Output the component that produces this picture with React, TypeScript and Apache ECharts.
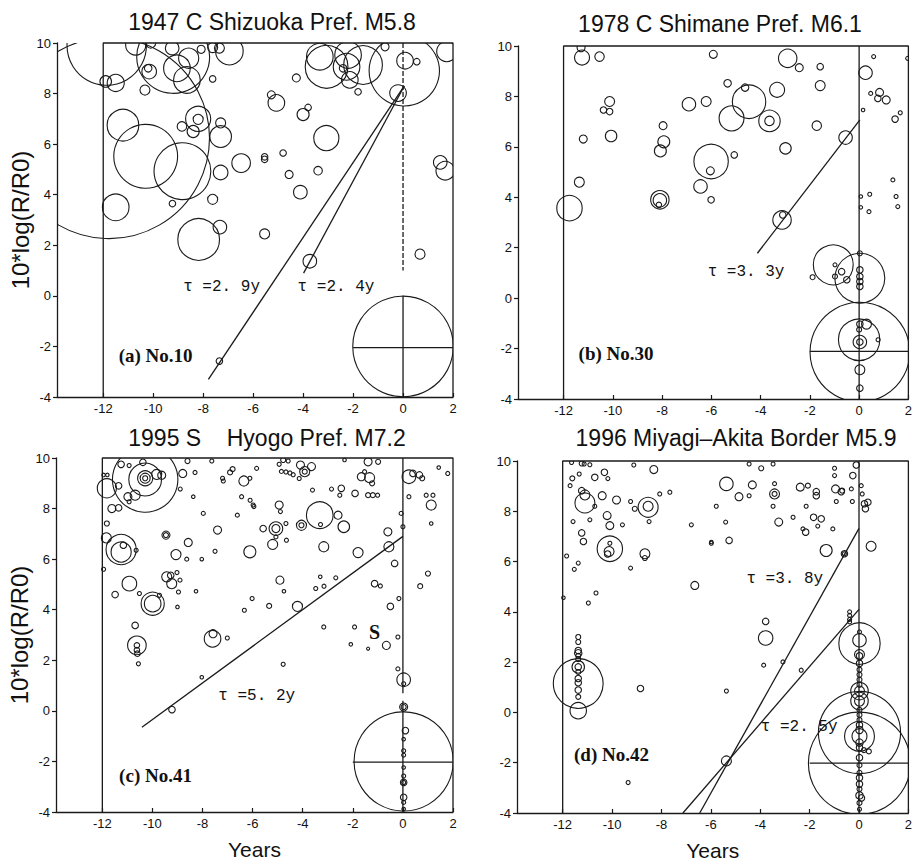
import React, { useEffect, useRef } from "react";
import * as echarts from "echarts";

// ---------- axis settings ----------
const X_MIN = -13.85;
const X_MAX = 2;
const Y_MIN = -4;
const Y_MAX = 10;
const X_TICKS = [-12, -10, -8, -6, -4, -2, 0, 2];

const TITLES = [
  "1947 C Shizuoka Pref. M5.8",
  "1978 C Shimane Pref. M6.1",
  "1995 S\u00a0\u00a0\u00a0\u00a0Hyogo Pref. M7.2",
  "1996 Miyagi\u2013Akita Border M5.9",
];
const Y_NAME = "10*log(R/R0)";
const X_NAME = "Years";

// ---------- circles [years, 10*log(R/R0), radius] ----------
const circlesA = [
  [-11.86, 9.9, 1.58], [-11.77, 6.24, 4.0], [-11.9, 8.48, 0.23], [-11.5, 8.42, 0.34],
  [-11.21, 6.75, 0.63], [-10.3, 5.52, 1.27], [-8.83, 4.93, 1.13], [-11.5, 3.5, 0.53],
  [-8.18, 2.23, 0.83], [-9.2, 9.45, 1.45], [-10.33, 8.14, 0.2], [-10.16, 8.87, 0.29],
  [-10.2, 9.0, 0.15], [-9.24, 9.8, 0.27], [-9.05, 9.0, 0.53], [-8.58, 9.4, 0.4],
  [-8.65, 8.54, 0.53], [-8.08, 9.75, 0.16], [-7.62, 8.58, 0.13], [-7.62, 9.82, 0.2],
  [-7.35, 9.8, 0.2], [-6.95, 9.68, 0.55], [-10.7, 9.92, 0.4], [-10.1, 10.0, 0.2],
  [-8.2, 7.0, 0.5], [-8.2, 6.98, 0.2], [-8.85, 6.7, 0.19], [-8.4, 6.5, 0.24],
  [-7.3, 6.84, 0.2], [-7.3, 6.3, 0.43], [-6.48, 5.25, 0.37], [-7.3, 4.88, 0.29],
  [-9.23, 3.65, 0.13], [-7.62, 3.82, 0.2], [-7.33, 2.72, 0.27], [-7.35, -2.58, 0.13],
  [-3.33, 9.46, 0.53], [-3.06, 9.06, 0.85], [-2.2, 9.53, 0.53], [-2.26, 9.06, 0.53],
  [-1.6, 9.13, 0.77], [-2.13, 8.54, 0.33], [-1.8, 8.07, 0.13], [-2.4, 9.0, 0.15],
  [-0.72, 9.85, 0.16], [-0.2, 8.02, 0.33], [0.08, 9.3, 0.33], [0.55, 9.26, 0.13],
  [1.75, 9.66, 0.4], [0.05, 8.9, 1.4], [-4.27, 8.62, 0.16], [-5.27, 7.95, 0.16],
  [-5.07, 7.63, 0.33], [-3.8, 7.45, 0.13], [-4.0, 7.17, 0.24], [-3.07, 6.24, 0.5],
  [-5.54, 5.5, 0.13], [-5.54, 5.4, 0.13], [-4.8, 5.65, 0.13], [-4.56, 4.8, 0.16],
  [-3.4, 4.95, 0.17], [-4.11, 4.1, 0.27], [-5.54, 2.45, 0.2], [-3.73, 1.37, 0.27],
  [1.49, 5.28, 0.27], [1.69, 4.95, 0.37], [0.68, 1.65, 0.2], [0.0, -2.0, 2.0],
];

const circlesB = [
  [-11.29, 9.93, 0.16], [-11.25, 9.54, 0.3], [-10.54, 9.58, 0.19], [-10.13, 7.8, 0.2],
  [-10.38, 7.46, 0.13], [-10.13, 7.4, 0.13], [-11.2, 6.31, 0.16], [-10.07, 6.43, 0.23],
  [-11.36, 4.6, 0.2], [-11.76, 3.57, 0.51], [-7.96, 6.84, 0.16], [-7.93, 6.2, 0.24],
  [-8.07, 5.84, 0.24], [-8.09, 3.9, 0.37], [-8.09, 3.88, 0.27], [-8.13, 3.7, 0.11],
  [-6.91, 7.69, 0.27], [-6.21, 7.8, 0.2], [-5.92, 9.67, 0.16], [-6.01, 5.42, 0.69],
  [-6.04, 5.05, 0.16], [-6.44, 4.43, 0.27], [-6.01, 3.9, 0.13], [-2.9, 9.51, 0.37],
  [-2.43, 9.14, 0.16], [-1.58, 9.18, 0.13], [-1.58, 8.43, 0.2], [-1.72, 6.84, 0.19],
  [-5.34, 8.52, 0.15], [-4.63, 8.35, 0.15], [-4.47, 7.79, 0.67], [-5.18, 7.13, 0.5],
  [-3.64, 7.03, 0.43], [-3.64, 7.03, 0.19], [-3.33, 8.26, 0.3], [-2.99, 5.94, 0.23],
  [-5.07, 5.68, 0.13], [-3.13, 3.1, 0.37], [-3.1, 3.3, 0.13], [-0.55, 6.37, 0.27],
  [0.26, 8.94, 0.27], [0.59, 9.58, 0.08], [1.97, 9.51, 0.08], [0.47, 8.12, 0.08],
  [0.83, 8.16, 0.16], [0.76, 7.92, 0.13], [1.1, 7.86, 0.16], [0.16, 7.46, 0.07],
  [1.46, 7.1, 0.13], [1.67, 7.35, 0.08], [0.07, 4.03, 0.07], [0.43, 4.12, 0.08],
  [0.07, 3.6, 0.07], [0.4, 3.43, 0.08], [1.37, 4.69, 0.08], [1.5, 4.03, 0.08],
  [1.57, 3.63, 0.08], [-1.89, 0.83, 0.1], [-1.05, 1.32, 0.8], [-0.98, 1.32, 0.08],
  [-0.71, 1.05, 0.13], [-0.98, 0.86, 0.1], [-0.5, 0.73, 0.13], [0.03, 0.79, 1.0],
  [0.03, 1.78, 0.1], [0.03, 1.12, 0.13], [0.03, 0.86, 0.13], [0.03, 0.66, 0.13],
  [0.03, 0.46, 0.13], [0.03, -2.14, 2.0], [0.0, -1.65, 0.83], [0.3, -1.03, 0.2],
  [0.03, -1.03, 0.13], [0.77, -1.65, 0.08], [0.03, -1.74, 0.27], [0.03, -1.74, 0.13],
  [0.03, -2.84, 0.2], [0.03, -3.57, 0.13], [0.0, -1.25, 0.1],
];

const circlesC = [
  [-10.29, 9.15, 1.3], [-10.29, 9.15, 0.65], [-10.29, 9.2, 0.3], [-10.29, 9.2, 0.2],
  [-10.29, 9.2, 0.1], [-11.82, 8.8, 0.38], [-11.95, 9.33, 0.07], [-11.8, 9.33, 0.07],
  [-11.62, 8.0, 0.16], [-11.35, 8.03, 0.13], [-11.82, 7.41, 0.1], [-11.84, 6.84, 0.2],
  [-11.95, 5.6, 0.08], [-11.25, 6.38, 0.6], [-11.25, 6.28, 0.4], [-11.16, 6.55, 0.13],
  [-10.65, 6.35, 0.08], [-10.92, 5.03, 0.29], [-11.49, 4.6, 0.13], [-10.52, 4.64, 0.08],
  [-9.99, 4.24, 0.46], [-9.99, 4.24, 0.33], [-9.72, 4.57, 0.08], [-10.69, 3.38, 0.13],
  [-10.62, 2.59, 0.37], [-10.62, 2.59, 0.11], [-10.62, 2.4, 0.11], [-10.6, 2.26, 0.11],
  [-10.56, 1.86, 0.08], [-11.35, 8.9, 0.13], [-10.98, 8.47, 0.16], [-10.69, 8.53, 0.2],
  [-11.25, 9.75, 0.13], [-10.93, 9.7, 0.08], [-10.38, 9.83, 0.13], [-9.83, 9.35, 0.2],
  [-9.63, 9.32, 0.16], [-10.93, 8.27, 0.08], [-9.46, 6.95, 0.16], [-9.46, 6.95, 0.1],
  [-9.06, 6.18, 0.2], [-8.57, 6.66, 0.16], [-8.63, 6.0, 0.08], [-9.43, 5.3, 0.2],
  [-9.23, 5.03, 0.2], [-9.27, 5.36, 0.13], [-9.02, 5.47, 0.08], [-8.9, 5.17, 0.08],
  [-8.96, 4.7, 0.08], [-9.0, 4.11, 0.07], [-8.79, 9.39, 0.16], [-8.89, 8.77, 0.08],
  [-8.37, 8.47, 0.07], [-8.6, 9.88, 0.1], [-8.3, 9.43, 0.08], [-7.97, 7.81, 0.08],
  [-8.03, 6.0, 0.07], [-8.26, 4.73, 0.07], [-7.63, 9.88, 0.08], [-7.4, 7.15, 0.16],
  [-7.5, 6.31, 0.08], [-7.6, 2.85, 0.33], [-7.58, 3.05, 0.16], [-7.01, 2.88, 0.08],
  [-8.03, 1.33, 0.07], [-9.22, 0.05, 0.13], [-7.2, 9.2, 0.08], [-6.8, 9.56, 0.1],
  [-6.9, 9.43, 0.1], [-7.17, 9.09, 0.08], [-6.35, 9.09, 0.2], [-6.11, 9.2, 0.08],
  [-6.44, 8.47, 0.08], [-6.1, 8.33, 0.08], [-5.95, 8.08, 0.08], [-6.61, 7.74, 0.08],
  [-6.11, 6.29, 0.24], [-6.02, 4.44, 0.08], [-6.33, 3.98, 0.08], [-5.84, 9.59, 0.08],
  [-4.94, 9.75, 0.08], [-4.78, 9.92, 0.1], [-4.58, 9.88, 0.08], [-4.85, 9.47, 0.08],
  [-4.67, 9.45, 0.08], [-4.51, 9.41, 0.08], [-4.38, 9.34, 0.08], [-4.09, 9.72, 0.16],
  [-3.65, 9.66, 0.16], [-3.92, 9.46, 0.2], [-3.92, 9.46, 0.1], [-4.14, 9.19, 0.08],
  [-5.98, 8.14, 0.08], [-4.94, 8.14, 0.16], [-4.89, 7.88, 0.08], [-3.61, 8.73, 0.08],
  [-2.85, 8.77, 0.08], [-2.46, 8.8, 0.13], [-2.52, 8.53, 0.08], [-3.32, 7.74, 0.53],
  [-3.29, 7.37, 0.08], [-2.59, 7.74, 0.16], [-2.36, 7.28, 0.23], [-1.91, 8.6, 0.13],
  [-1.39, 8.53, 0.1], [-1.2, 8.53, 0.1], [-1.01, 8.53, 0.08], [-1.39, 9.85, 0.16],
  [-0.99, 9.85, 0.1], [-2.33, 9.92, 0.07], [-1.66, 9.26, 0.16], [-1.33, 9.22, 0.2],
  [-1.23, 9.0, 0.1], [-1.53, 9.46, 0.08], [-5.07, 7.21, 0.27], [-5.07, 7.21, 0.16],
  [-5.58, 7.21, 0.13], [-4.67, 7.41, 0.08], [-4.05, 7.34, 0.2], [-4.05, 7.34, 0.1],
  [-5.07, 6.88, 0.08], [-4.65, 6.75, 0.08], [-5.2, 6.58, 0.2], [-3.16, 6.49, 0.2],
  [-1.79, 6.26, 0.2], [-0.6, 7.08, 0.16], [-0.56, 6.49, 0.2], [-0.33, 5.83, 0.13],
  [-0.07, 7.81, 0.08], [0.0, 7.28, 0.08], [-4.91, 5.17, 0.16], [-4.75, 4.73, 0.07],
  [-3.3, 5.3, 0.07], [-3.48, 4.84, 0.08], [-3.15, 4.93, 0.08], [-2.68, 5.26, 0.08],
  [-5.34, 4.15, 0.1], [-4.21, 4.13, 0.2], [-1.13, 5.03, 0.13], [-0.9, 4.94, 0.08],
  [-0.16, 4.44, 0.08], [-0.5, 4.13, 0.13], [-0.2, 2.92, 0.08], [-3.16, 3.32, 0.08],
  [-1.93, 3.32, 0.08], [-2.08, 2.63, 0.07], [-1.39, 2.46, 0.05], [-0.66, 2.59, 0.16],
  [-4.78, 1.84, 0.08], [-0.2, 1.66, 0.08], [0.03, 1.23, 0.27], [0.03, 1.07, 0.08],
  [0.03, 0.15, 0.16], [0.03, 0.15, 0.1], [0.03, -2.0, 1.97], [0.1, -0.78, 0.13],
  [0.03, -1.12, 0.07], [0.03, -1.58, 0.08], [0.03, -1.75, 0.08], [0.03, -2.24, 0.07],
  [0.03, -2.58, 0.08], [0.03, -2.83, 0.13], [0.03, -2.83, 0.08], [0.03, -3.42, 0.13],
  [0.03, -3.62, 0.08], [0.03, -3.88, 0.07], [0.24, 9.26, 0.27], [0.4, 9.39, 0.13],
  [0.66, 9.33, 0.13], [0.77, 9.2, 0.1], [0.24, 8.47, 0.08], [0.93, 8.53, 0.08],
  [1.2, 8.53, 0.08], [1.13, 8.14, 0.2], [1.13, 7.41, 0.07], [1.43, 9.62, 0.07],
  [1.79, 9.39, 0.08], [1.0, 5.43, 0.1], [0.69, 4.93, 0.1],
];

const circlesD = [
  [-11.64, 9.94, 0.08], [-11.23, 9.9, 0.1], [-11.13, 9.88, 0.08], [-10.9, 9.85, 0.08],
  [-11.61, 9.31, 0.1], [-11.33, 9.48, 0.08], [-11.7, 9.02, 0.08], [-10.7, 9.35, 0.13],
  [-10.31, 9.55, 0.13], [-10.17, 9.3, 0.08], [-11.23, 8.82, 0.13], [-11.1, 8.65, 0.2],
  [-11.1, 8.33, 0.4], [-10.7, 8.2, 0.08], [-10.4, 8.62, 0.16], [-9.82, 8.45, 0.16],
  [-9.12, 9.84, 0.08], [-8.31, 9.66, 0.16], [-9.25, 8.39, 0.08], [-9.08, 8.1, 0.1],
  [-8.07, 8.69, 0.08], [-7.66, 8.76, 0.08], [-8.54, 8.16, 0.4], [-8.54, 8.2, 0.2],
  [-8.5, 7.59, 0.08], [-11.58, 7.59, 0.08], [-10.9, 7.66, 0.08], [-10.2, 7.83, 0.16],
  [-10.09, 7.43, 0.16], [-9.58, 7.46, 0.08], [-11.23, 7.14, 0.13], [-11.16, 6.8, 0.13],
  [-10.09, 6.51, 0.51], [-10.09, 6.73, 0.08], [-10.12, 6.4, 0.2], [-10.18, 6.3, 0.13],
  [-8.67, 6.31, 0.2], [-8.67, 6.14, 0.1], [-11.84, 6.22, 0.08], [-11.37, 5.94, 0.08],
  [-11.53, 5.69, 0.08], [-9.25, 5.74, 0.08], [-6.79, 7.46, 0.08], [-5.98, 6.73, 0.08],
  [-6.65, 5.05, 0.16], [-11.97, 4.56, 0.07], [-10.65, 4.75, 0.08], [-10.96, 4.35, 0.08],
  [-11.37, 3.0, 0.1], [-11.37, 2.8, 0.1], [-11.37, 2.46, 0.13], [-11.37, 2.35, 0.15],
  [-11.37, 2.25, 0.1], [-11.37, 2.12, 0.1], [-11.37, 1.81, 0.25], [-11.37, 1.81, 0.13],
  [-11.37, 1.61, 0.1], [-11.37, 1.35, 0.13], [-11.37, 1.18, 0.13], [-11.37, 0.89, 0.13],
  [-11.37, 0.62, 0.1], [-11.37, 1.15, 1.0], [-11.37, 0.07, 0.33], [-8.85, 0.95, 0.13],
  [-9.35, -2.79, 0.08], [-4.45, 9.88, 0.08], [-3.96, 9.71, 0.1], [-3.48, 9.88, 0.08],
  [-5.37, 9.09, 0.27], [-4.32, 9.05, 0.16], [-4.45, 8.62, 0.08], [-4.86, 8.58, 0.16],
  [-5.78, 8.2, 0.08], [-5.4, 7.57, 0.08], [-5.98, 6.78, 0.07], [-5.26, 6.84, 0.13],
  [-3.42, 9.1, 0.08], [-3.42, 8.69, 0.2], [-3.42, 8.69, 0.1], [-3.48, 8.2, 0.08],
  [-3.25, 7.57, 0.16], [-2.67, 7.76, 0.08], [-2.27, 7.3, 0.08], [-2.16, 7.17, 0.13],
  [-2.14, 8.2, 0.08], [-2.38, 8.96, 0.16], [-2.07, 9.02, 0.1], [-1.84, 7.76, 0.13],
  [-1.53, 7.7, 0.13], [-1.67, 7.41, 0.08], [-1.06, 7.3, 0.08], [-1.73, 8.78, 0.13],
  [-1.73, 8.62, 0.13], [-1.33, 6.44, 0.24], [-0.95, 8.89, 0.16], [-0.99, 9.71, 0.08],
  [-0.99, 9.42, 0.08], [-0.72, 8.78, 0.13], [-0.68, 8.82, 0.1], [-0.92, 8.39, 0.08],
  [-0.31, 8.89, 0.08], [-0.25, 9.42, 0.13], [-0.27, 8.39, 0.08], [-0.11, 9.84, 0.13],
  [0.09, 9.02, 0.08], [0.13, 8.69, 0.08], [0.22, 8.3, 0.13], [0.36, 8.36, 0.13],
  [0.26, 8.1, 0.13], [0.49, 6.61, 0.2], [-0.59, 6.31, 0.13], [-0.59, 6.31, 0.08],
  [-3.78, 3.62, 0.13], [-3.78, 2.96, 0.29], [-3.86, 1.88, 0.08], [-3.08, 2.01, 0.08],
  [-2.34, 1.68, 0.08], [-5.37, 0.85, 0.08], [-5.37, -1.93, 0.2], [-0.38, 4.0, 0.08],
  [-0.38, 3.86, 0.08], [-0.38, 3.7, 0.08], [-0.38, 3.6, 0.08], [0.02, 2.74, 0.83],
  [0.02, 2.87, 0.27], [0.02, 3.2, 0.08], [0.02, 2.3, 0.2], [0.02, 2.25, 0.13],
  [0.02, 1.95, 0.13], [0.02, 1.7, 0.1], [0.02, 1.5, 0.1], [0.02, 1.3, 0.1],
  [0.02, 1.1, 0.1], [0.02, 0.85, 0.35], [0.02, 0.85, 0.2], [0.02, 0.45, 0.35],
  [0.02, 0.45, 0.2], [0.02, 0.1, 0.1], [0.02, -0.1, 0.1], [0.02, -0.3, 0.1],
  [0.02, -0.5, 0.13], [0.02, -0.8, 1.65], [0.02, -0.95, 0.6], [0.02, -0.95, 0.3],
  [0.02, -0.7, 0.15], [0.02, -1.2, 0.15], [0.02, -1.4, 0.13], [0.2, -1.5, 0.1],
  [0.4, -1.55, 0.1], [0.02, -2.02, 2.05], [0.02, -1.8, 0.13], [0.02, -2.1, 0.1],
  [0.02, -2.4, 0.1], [0.02, -2.6, 0.13], [0.02, -2.85, 0.13], [0.02, -3.05, 0.1],
  [0.02, -3.3, 0.15], [0.1, -3.4, 0.13], [0.02, -3.6, 0.1], [0.02, -3.85, 0.08],
];

// ---------- line segments [[x0,y0],[x1,y1],...] ----------
const frameLine = [[-12, -4], [-12, 10], [2, 10], [2, -4]];

const linesA = [
  { pts: [[-7.79, -3.3], [0.05, 8.3]], dash: false },
  { pts: [[-3.98, 0.9], [0.05, 8.3]], dash: false },
  { pts: [[0, 10], [0, 1.0]], dash: true },
  { pts: [[0, 0], [0, -4]], dash: false },
  { pts: [[-2, -2.05], [2, -2.05]], dash: false },
];
const linesB = [
  { pts: [[-4.13, 1.78], [0.03, 7.07]], dash: false },
  { pts: [[0, 10], [0, -4]], dash: false },
  { pts: [[-2, -2.11], [2, -2.11]], dash: false },
];
const linesC = [
  { pts: [[-10.42, -0.65], [0, 6.9]], dash: false },
  { pts: [[0, 10], [0, 0.7]], dash: false },
  { pts: [[0, 0.4], [0, -4]], dash: false },
  { pts: [[-2, -2.03], [2, -2.03]], dash: false },
];
const linesD = [
  { pts: [[-6.45, -4], [0, 7.32]], dash: false },
  { pts: [[-7.13, -4], [0, 4.1]], dash: false },
  { pts: [[0, 10], [0, -4]], dash: false },
  { pts: [[-2, -2.02], [2, -2.02]], dash: false },
];

// ---------- annotation texts [x, y, text, kind] ----------
const labelsA = [
  [-11.38, -2.34, "(a) No.10", "panel"],
  [-8.8, 0.35, "\u03c4 =2. 9y", "tau"],
  [-4.22, 0.35, "\u03c4 =2. 4y", "tau"],
];
const labelsB = [
  [-11.39, -2.2, "(b) No.30", "panel"],
  [-6.15, 1.05, "\u03c4 =3. 3y", "tau"],
];
const labelsC = [
  [-11.33, -2.55, "(c) No.41", "panel"],
  [-7.37, 0.58, "\u03c4 =5. 2y", "tau"],
  [-1.13, 3.13, "S", "mark"],
];
const labelsD = [
  [-11.54, -1.68, "(d) No.42", "panel"],
  [-4.56, 5.29, "\u03c4 =3. 8y", "tau"],
  [-3.98, -0.56, "\u03c4 =2. 5y", "tau"],
];

// ---------- layout ----------
const GRIDS = [
  { left: 57, top: 43, width: 396, height: 354 },
  { left: 518, top: 46, width: 393, height: 353 },
  { left: 56, top: 458, width: 397, height: 354 },
  { left: 517, top: 461, width: 392, height: 352 },
];
const TITLE_POS = [
  [272, 22],
  [720, 24],
  [267, 438],
  [736, 438],
];

const INK = "#1a1a1a";

const panels = [
  { circles: circlesA, lines: linesA, labels: labelsA },
  { circles: circlesB, lines: linesB, labels: labelsB },
  { circles: circlesC, lines: linesC, labels: labelsC },
  { circles: circlesD, lines: linesD, labels: labelsD },
];

function buildOption() {
  const grid: any[] = [];
  const xAxis: any[] = [];
  const yAxis: any[] = [];
  const series: any[] = [];

  panels.forEach((p, i) => {
    grid.push({ ...GRIDS[i], containLabel: false });
    const bottomRow = i >= 2;
    const leftCol = i % 2 === 0;
    xAxis.push({
      type: "value",
      gridIndex: i,
      min: X_MIN,
      max: X_MAX,
      axisLine: { show: true, onZero: false, lineStyle: { color: INK, width: 1.3 } },
      axisTick: {
        show: true,
        inside: true,
        length: 4,
        customValues: X_TICKS,
        lineStyle: { color: INK, width: 1.2 },
      },
      axisLabel: {
        customValues: X_TICKS,
        margin: 5,
        fontSize: 13,
        color: "#111",
        fontFamily: "Liberation Sans",
      },
      splitLine: { show: false },
      name: bottomRow ? X_NAME : "",
      nameLocation: "middle",
      nameGap: 27,
      nameTextStyle: { fontSize: 21, color: "#111", fontFamily: "Liberation Sans" },
    });
    yAxis.push({
      type: "value",
      gridIndex: i,
      min: Y_MIN,
      max: Y_MAX,
      interval: 2,
      axisLine: { show: true, onZero: false, lineStyle: { color: INK, width: 1.3 } },
      axisTick: { show: true, inside: false, length: 4, lineStyle: { color: INK, width: 1.2 } },
      axisLabel: { margin: 6, fontSize: 13, color: "#111", fontFamily: "Liberation Sans" },
      splitLine: { show: false },
      name: leftCol ? Y_NAME : "",
      nameLocation: "middle",
      nameGap: 23,
      nameRotate: 90,
      nameTextStyle: { fontSize: 24, color: "#111", fontFamily: "Liberation Sans" },
    });

    // frame
    series.push({
      type: "line",
      xAxisIndex: i,
      yAxisIndex: i,
      data: frameLine,
      symbol: "none",
      clip: false,
      lineStyle: { color: INK, width: 1.3 },
      silent: true,
    });
    p.lines.forEach((ln) => {
      series.push({
        type: "line",
        xAxisIndex: i,
        yAxisIndex: i,
        data: ln.pts,
        symbol: "none",
        clip: false,
        lineStyle: { color: INK, width: 1.3, type: ln.dash ? [5, 2] : "solid" },
        silent: true,
      });
    });

    // circles
    series.push({
      type: "custom",
      xAxisIndex: i,
      yAxisIndex: i,
      clip: true,
      silent: true,
      data: p.circles,
      renderItem: (params: any, api: any) => {
        const c = api.coord([api.value(0), api.value(1)]);
        const s = api.size([api.value(2), api.value(2)]);
        const r = Math.max(1.5, (s[0] + s[1]) / 2);
        return {
          type: "circle",
          shape: { cx: c[0], cy: c[1], r },
          style: { fill: "none", stroke: INK, lineWidth: 1.1 },
        };
      },
    });

    // texts
    const labs = p.labels;
    series.push({
      type: "custom",
      xAxisIndex: i,
      yAxisIndex: i,
      clip: false,
      silent: true,
      data: labs.map((l) => [l[0], l[1]]),
      renderItem: (params: any, api: any) => {
        const item = labs[params.dataIndex];
        const c = api.coord([item[0], item[1]]);
        const kind = item[3];
        let font = "16px 'Liberation Mono', monospace";
        let align = "left";
        if (kind === "panel") font = "bold 19px 'Liberation Serif', serif";
        if (kind === "mark") {
          font = "bold 20px 'Liberation Serif', serif";
          align = "center";
        }
        return {
          type: "text",
          x: c[0],
          y: c[1],
          style: {
            text: item[2],
            font,
            fill: "#111",
            align,
            verticalAlign: "middle",
          },
        };
      },
    });
  });

  const graphic = TITLES.map((t, i) => ({
    type: "text",
    x: TITLE_POS[i][0],
    y: TITLE_POS[i][1],
    silent: true,
    style: {
      text: t,
      font: "23px 'Liberation Sans', Arial, sans-serif",
      fill: "#111",
      align: "center",
      verticalAlign: "middle",
    },
  }));

  return {
    animation: false,
    backgroundColor: "#ffffff",
    grid,
    xAxis,
    yAxis,
    series,
    graphic,
  };
}

export default function App() {
  const ref = useRef<HTMLDivElement>(null);
  useEffect(() => {
    if (!ref.current) return;
    const chart = echarts.init(ref.current, null, { renderer: "svg" });
    chart.setOption(buildOption() as any);
    return () => {
      chart.dispose();
    };
  }, []);
  return (
    <div
      ref={ref}
      style={{ position: "fixed", left: 0, top: 0, width: 915, height: 866, background: "#fff" }}
    />
  );
}
